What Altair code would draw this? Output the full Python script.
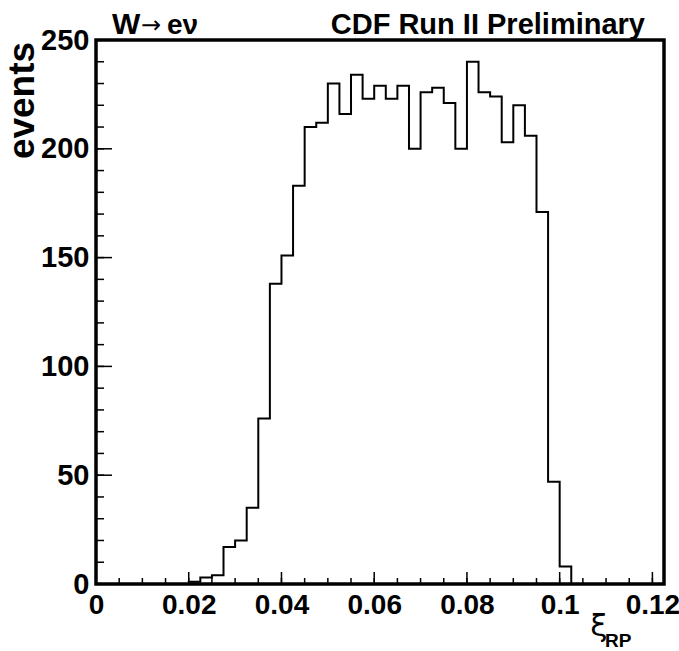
import altair as alt
import pandas as pd

# ---- data ----
bin_width = 0.0025
counts = [0, 0, 0, 0, 0, 0, 0, 0,           # 0.000 - 0.020
          1, 3, 4, 17, 20, 35, 76, 138,     # 0.020 - 0.040
          151, 183, 210, 212, 230, 216, 234, 223,   # 0.040 - 0.060
          229, 223, 229, 200, 226, 228, 221, 200,   # 0.060 - 0.080
          240, 226, 224, 203, 220, 206, 171, 47,    # 0.080 - 0.100
          8, 0, 0, 0, 0, 0, 0, 0, 0]                # 0.100 - 0.1225
x_max = 0.1225
x_major = [0, 0.02, 0.04, 0.06, 0.08, 0.1, 0.12]
x_minor = [i * 0.005 for i in range(25)]
y_major = [0, 50, 100, 150, 200, 250]
y_minor = [i * 10 for i in range(26)]

edges = [i * bin_width for i in range(len(counts) + 1)]
hist = pd.DataFrame({"xi": edges, "events": counts + [counts[-1]]})

W, H = 568, 544
FONT = "Liberation Sans"

xscale = alt.Scale(domain=[0, x_max], nice=False, zero=False)
yscale = alt.Scale(domain=[0, 250], nice=False)

line = alt.Chart(hist).mark_line(
    interpolate="step-after", color="black", strokeWidth=2
).encode(
    x=alt.X("xi:Q", scale=xscale,
            axis=alt.Axis(values=x_major, format="~g", title=None, ticks=False,
                          domain=False, grid=False, labelFlush=False,
                          labelPadding=7, labelBaseline="top",
                          labelFont=FONT, labelFontWeight="bold",
                          labelFontSize=28, labelColor="black")),
    y=alt.Y("events:Q", scale=yscale,
            axis=alt.Axis(values=y_major, title="events", ticks=False,
                          domain=False, grid=False, labelFlush=False,
                          labelPadding=7, labelBaseline="middle",
                          labelFont=FONT, labelFontWeight="bold",
                          labelFontSize=29, labelColor="black",
                          titleFont=FONT, titleFontWeight="bold",
                          titleFontSize=37, titleColor="black",
                          titleX=-63, titleY=60, titleAngle=270,
                          titleAlign="center", titleBaseline="alphabetic")),
)

def xticks(vals, length):
    return alt.Chart(pd.DataFrame({"v": vals})).mark_rule(
        color="black", strokeWidth=1.5
    ).encode(x=alt.X("v:Q", scale=xscale), y=alt.value(H), y2=alt.value(H - length))

def yticks(vals, length):
    return alt.Chart(pd.DataFrame({"v": vals})).mark_rule(
        color="black", strokeWidth=1.5
    ).encode(y=alt.Y("v:Q", scale=yscale), x=alt.value(0), x2=alt.value(length))

def label(text, x, y, size, weight="bold", align="left", font=FONT):
    return alt.Chart(pd.DataFrame({"t": [text]})).mark_text(
        font=font, fontSize=size, fontWeight=weight, align=align,
        baseline="alphabetic", color="black"
    ).encode(text="t:N", x=alt.value(x), y=alt.value(y))

chart = alt.layer(
    line,
    xticks(x_minor, 6), xticks(x_major, 12),
    yticks(y_minor, 8), yticks(y_major, 16),
    label("W", 16, -6, 30),
    label("→", 45, -7, 24, weight="normal", font="DejaVu Sans"),
    label("eν", 71, -6, 28),
    label("CDF Run II Preliminary", 549, -6, 29, align="right"),
    label("ξ", 503, 596, 31, weight="normal", align="center", font="DejaVu Sans"),
    label("RP", 509, 607, 19),
).properties(
    width=W, height=H,
    autosize=alt.AutoSizeParams(type="none"),
    padding={"left": 96, "top": 40, "right": 15, "bottom": 67},
).configure_view(stroke="black", strokeWidth=3.5)

chart.save("out.html", embed_options={"renderer": "svg", "actions": False})
